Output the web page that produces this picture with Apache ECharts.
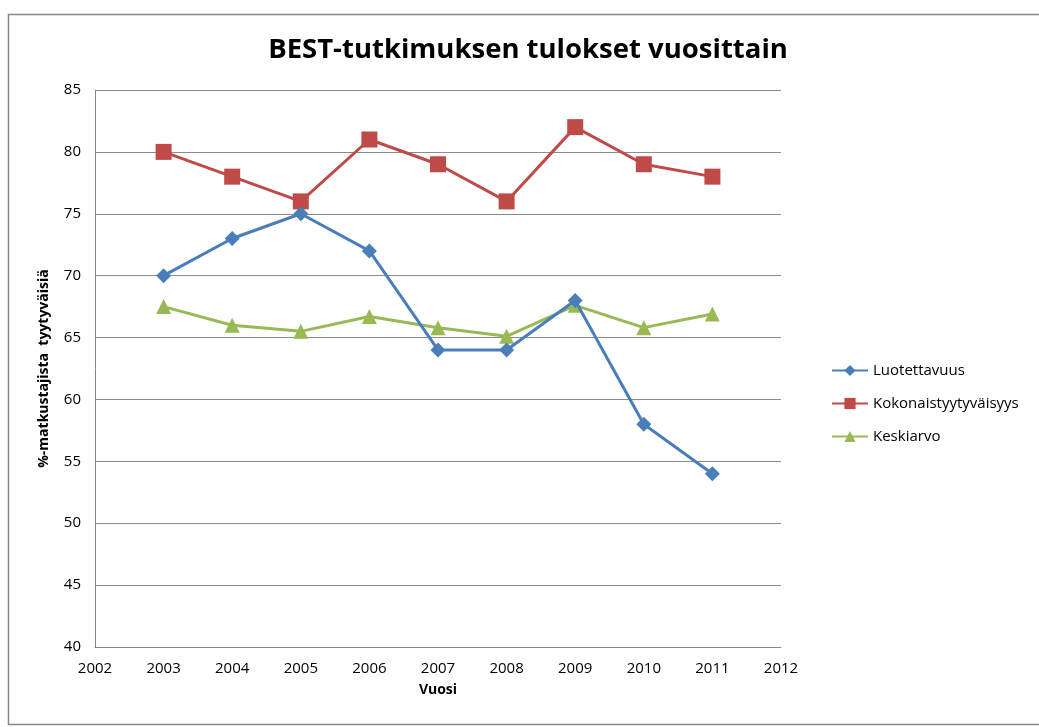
<!DOCTYPE html>
<html><head><meta charset="utf-8">
<script src="https://cdn.jsdelivr.net/npm/echarts@6/dist/echarts.min.js"></script>
<style>html,body{margin:0;padding:0;background:#fff}#c{width:1039px;height:727px}</style>
</head><body><div id="c"></div>
<script>
const years = [2003, 2004, 2005, 2006, 2007, 2008, 2009, 2010, 2011];
const luotettavuus = [70, 73, 75, 72, 64, 64, 68, 58, 54];
const kokonais = [80, 78, 76, 81, 79, 76, 82, 79, 78];
const keskiarvo = [67.5, 66, 65.5, 66.7, 65.8, 65.1, 67.6, 65.8, 66.9];
const seriesNames = ['Luotettavuus', 'Kokonaistyytyväisyys', 'Keskiarvo'];

const font = '"Open Sans", "Noto Sans", sans-serif';
const pair = (arr) => years.map((y, i) => [y, arr[i]]);
const chart = echarts.init(document.getElementById('c'));
chart.setOption({
  animation: false,
  backgroundColor: '#fff',
  graphic: [{
    type: 'rect', left: 6, top: 12, shape: {width: 1040, height: 710},
    style: {fill: 'none', stroke: '#888', lineWidth: 1.5}, silent: true
  }],
  title: {
    text: 'BEST-tutkimuksen tulokset vuosittain',
    left: 523, top: 31, textAlign: 'center',
    textStyle: {fontFamily: '"Liberation Sans Narrow", "Open Sans", sans-serif', fontWeight: 'bold', fontSize: 27.5, color: '#000'}
  },
  legend: {
    orient: 'vertical', left: 826, top: 358, itemGap: 18,
    itemWidth: 36, itemHeight: 14,
    textStyle: {fontFamily: font, fontSize: 15, color: '#000'},
    data: seriesNames
  },
  grid: {left: 95, right: 258, top: 90, bottom: 80},
  xAxis: {
    type: 'value', min: 2002, max: 2012, interval: 1,
    name: 'Vuosi', nameLocation: 'middle', nameGap: 36,
    nameTextStyle: {fontFamily: font, fontWeight: 'bold', fontSize: 14, color: '#000'},
    axisLine: {show: true, lineStyle: {color: '#888'}},
    axisTick: {show: false},
    splitLine: {show: false},
    axisLabel: {formatter: v => String(v), fontFamily: font, fontSize: 15, color: '#000', margin: 14}
  },
  yAxis: {
    type: 'value', min: 40, max: 85, interval: 5,
    name: '%-matkustajista  tyytyväisiä', nameLocation: 'middle', nameGap: 44, nameRotate: 90,
    nameTextStyle: {fontFamily: font, fontWeight: 'bold', fontSize: 14, color: '#000'},
    axisLine: {show: true, lineStyle: {color: '#888'}},
    axisTick: {show: false},
    splitLine: {show: true, lineStyle: {color: '#8c8c8c'}},
    axisLabel: {fontFamily: font, fontSize: 15, color: '#000', margin: 14}
  },
  series: [
    {name: seriesNames[0], type: 'line', data: pair(luotettavuus), symbol: 'diamond', symbolSize: 15,
     itemStyle: {color: '#4a7ebb'}, lineStyle: {width: 3, color: '#4a7ebb'}, z: 4},
    {name: seriesNames[1], type: 'line', data: pair(kokonais), symbol: 'rect', symbolSize: 16,
     itemStyle: {color: '#be4b48'}, lineStyle: {width: 3, color: '#be4b48'}, z: 3},
    {name: seriesNames[2], type: 'line', data: pair(keskiarvo), symbol: 'triangle', symbolSize: 15,
     itemStyle: {color: '#98b954'}, lineStyle: {width: 3, color: '#98b954'}, z: 2}
  ]
});
</script></body></html>
